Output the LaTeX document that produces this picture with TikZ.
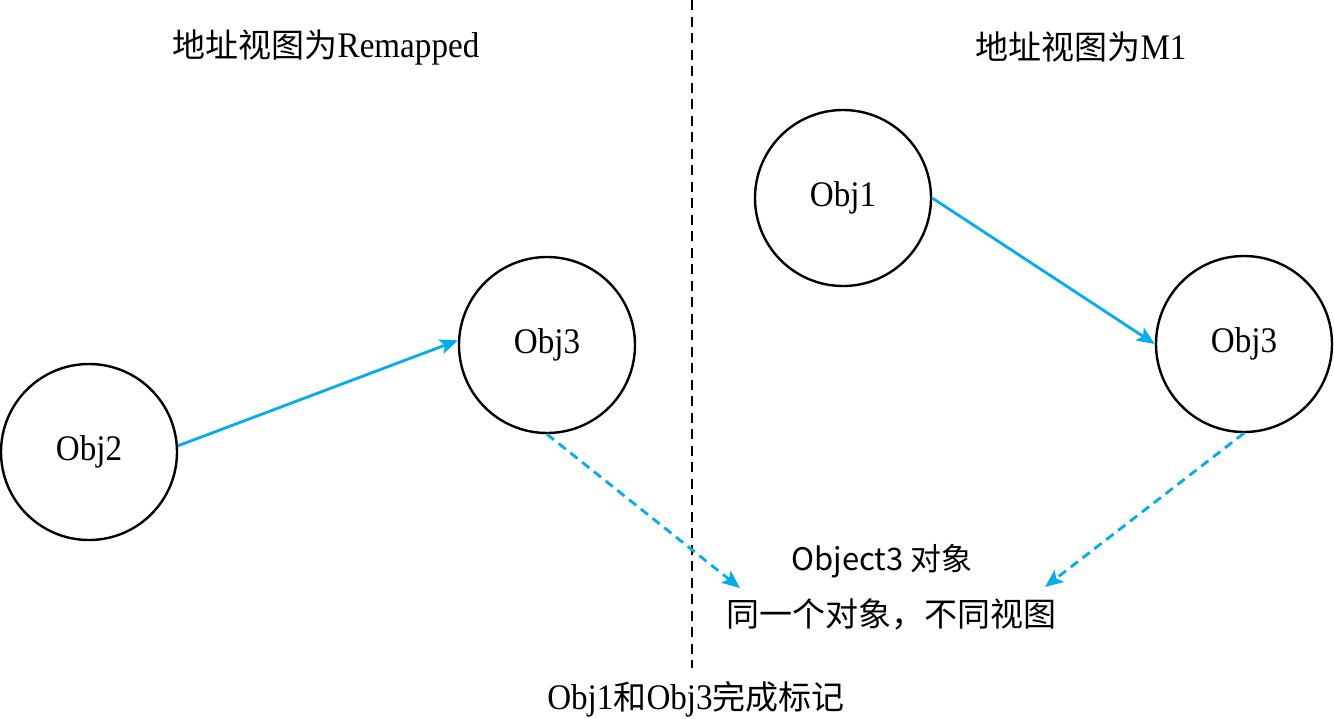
\documentclass[tikz,border=0pt]{standalone}
\usepackage{fontspec}
\setmainfont[FakeStretch=0.92]{Liberation Serif}
\newfontfamily\cjk{Noto Sans CJK SC}
\newcommand\zhtxt[1]{{\cjk\fontsize{33}{36}\selectfont #1}}
\usetikzlibrary{arrows.meta}
\definecolor{arrowblue}{RGB}{0,174,239}
\begin{document}
\begin{tikzpicture}[x=1pt,y=-1pt,
  obj/.style={circle,draw,line width=2.4pt,minimum size=176pt,inner sep=0pt,font=\fontsize{36}{40}\selectfont},
  lbl/.style={inner sep=0pt,font=\fontsize{36}{40}\selectfont},
  conn/.style={draw=arrowblue,line width=2.8pt,-{Stealth[length=18pt,width=15pt,inset=4pt,fill=arrowblue]}},
  dconn/.style={conn,dash pattern=on 9pt off 6pt},
  sepline/.style={line width=2.2pt,dash pattern=on 10pt off 6.5pt}]
\fill[white] (0,0) rectangle (1334,718);
\useasboundingbox (0,0) rectangle (1334,718);
\node[obj] (o2) at (89,452) {Obj2};
\node[obj] (o3l) at (547,345) {Obj3};
\node[obj] (o1) at (843,198) {Obj1};
\node[obj] (o3r) at (1244,344) {Obj3};
\node[lbl] (t1) at (326,47) {\zhtxt{地址视图为}Remapped};
\node[lbl] (t2) at (1081,47) {\zhtxt{地址视图为}M1};
\node[inner sep=0pt,font=\cjk\fontsize{31}{34}\selectfont] (objtxt) at (882,561) {Object3 对象};
\node[inner sep=0pt,font=\cjk\fontsize{33}{36}\selectfont] (same) at (891,614) {同一个对象，不同视图};
\node[lbl] (mark) at (696,699) {Obj1\zhtxt{和}Obj3\zhtxt{完成标记}};
\coordinate (septop) at (692,0);
\coordinate (sepbot) at (692,668);
\draw[sepline] (septop) -- (sepbot);
\draw[conn] (o2.4) -- (o3l.177);
\draw[conn] (o1.east) -- (o3r.west);
\coordinate (tipL) at (740,588);
\coordinate (tipR) at (1045,587);
\draw[dconn] (o3l.south) -- (tipL);
\draw[dconn] (o3r.south) -- (tipR);
\end{tikzpicture}
\end{document}
